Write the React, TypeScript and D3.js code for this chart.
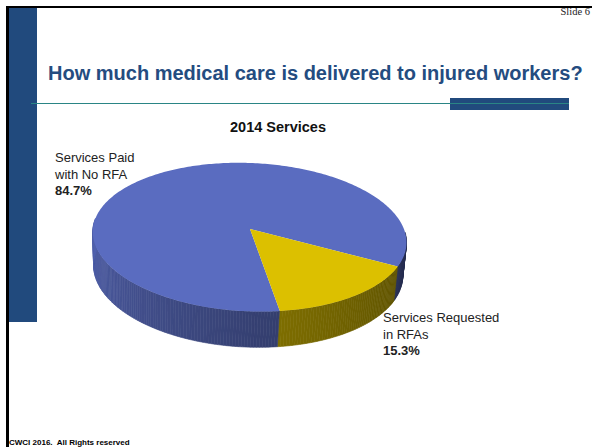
import React from "react";
import * as d3 from "d3";

const categories = ["Services Paid with No RFA", "Services Requested in RFAs"];
const values = [84.7, 15.3];
const percentLabels = ["84.7%", "15.3%"];
const labelLines = [["Services Paid", "with No RFA"], ["Services Requested", "in RFAs"]];
const colors = ["#5a6cc0", "#dcc000"];
const chartTitle = "2014 Services";
const slideTitle = "How much medical care is delivered to injured workers?";

const W = 592, H = 447;
const R = 156;
const alpha = (28 * Math.PI) / 180;
const Dcam = 1250;
const thick = 38;
const phi = (2.5 * Math.PI) / 180;
const cx = 250, cy = 229;
const startDeg = 169;

function proj(theta: number, z: number): [number, number] {
  const X = R * Math.cos(theta);
  const Y = R * Math.sin(theta);
  const w = Dcam - (Y * Math.cos(alpha) + z * Math.sin(alpha));
  const sx = (Dcam * X) / w;
  const sy = (Dcam * (Y * Math.sin(alpha) - z * Math.cos(alpha))) / w;
  const x2 = sx * Math.cos(phi) - sy * Math.sin(phi);
  const y2 = sx * Math.sin(phi) + sy * Math.cos(phi);
  return [cx + x2, cy + y2];
}

// d3 angle (clockwise from 12 o'clock) -> disc angle (from +X toward viewer)
const toTheta = (a: number) => a - Math.PI / 2;

function shade(hex: string, f: number) {
  const c = d3.rgb(hex);
  return d3.rgb(c.r * f, c.g * f, c.b * f).formatHex();
}

export default function App() {
  const pie = d3
    .pie<number>()
    .sort(null)
    .startAngle((startDeg * Math.PI) / 180)
    .endAngle((startDeg * Math.PI) / 180 + 2 * Math.PI);
  const arcs = pie(values);

  // top face paths
  const topPaths = arcs.map((a, i) => {
    const p = d3.path();
    p.moveTo(cx, cy);
    const t0 = toTheta(a.startAngle), t1 = toTheta(a.endAngle);
    const n = Math.max(8, Math.ceil(((t1 - t0) * 180) / Math.PI));
    for (let k = 0; k <= n; k++) {
      const t = t0 + ((t1 - t0) * k) / n;
      const [x, y] = proj(t, 0);
      p.lineTo(x, y);
    }
    p.closePath();
    return { d: p.toString(), fill: colors[i] };
  });

  // side wall: visible front half theta in [0, PI]
  const sideQuads: { d: string; fill: string }[] = [];
  const step = Math.PI / 180;
  const sliceOf = (theta: number) => {
    for (let i = 0; i < arcs.length; i++) {
      const a0 = toTheta(arcs[i].startAngle), a1 = toTheta(arcs[i].endAngle);
      let t = theta;
      while (t < a0) t += 2 * Math.PI;
      if (t >= a0 && t < a1) return i;
    }
    return 0;
  };
  for (let t = -0.05; t < Math.PI + 0.05; t += step) {
    const tm = t + step / 2;
    const i = sliceOf(tm);
    const frac = Math.min(1, Math.max(0, tm / Math.PI));
    const f = 0.4 + 0.5 * Math.pow(frac, 1.3);
    const a = proj(t, 0), b = proj(t + step, 0), c = proj(t + step, -thick), d = proj(t, -thick);
    const p = d3.path();
    p.moveTo(a[0], a[1]);
    p.lineTo(b[0], b[1]);
    p.lineTo(c[0], c[1]);
    p.lineTo(d[0], d[1]);
    p.closePath();
    sideQuads.push({ d: p.toString(), fill: shade(colors[i], f) });
  }

  const navy = "#214a7d";
  const font = "'Liberation Sans', Arial, sans-serif";
  const labelPos = [
    { x: 55, y: 162 },
    { x: 383, y: 322 },
  ];

  return (
    <svg
      width={W}
      height={H}
      viewBox={`0 0 ${W} ${H}`}
      style={{ position: "absolute", left: 0, top: 0, background: "#fff" }}
    >
      <rect x={0} y={0} width={W} height={H} fill="#fff" />
      {/* frame */}
      <rect x={9} y={8} width={28} height={314} fill={navy} />
      <rect x={6} y={6} width={586} height={2} fill="#000" />
      <rect x={6} y={6} width={3} height={441} fill="#000" />
      <rect x={450} y={98} width={119} height={12} fill={navy} />
      <line x1={31} x2={569} y1={103.5} y2={103.5} stroke="#2a8585" strokeWidth={1} />
      <text x={590} y={15} textAnchor="end" fontFamily="'Liberation Serif', 'Times New Roman', serif" fontSize={10.5} fill="#222">
        Slide 6
      </text>
      <text x={48} y={80} fontFamily={font} fontWeight="bold" fontSize={20} fill="#244c80">
        {slideTitle}
      </text>
      <text x={278} y={132} textAnchor="middle" fontFamily={font} fontWeight="bold" fontSize={14.5} fill="#111">
        {chartTitle}
      </text>
      {/* pie */}
      <g>
        {sideQuads.map((q, k) => (
          <path key={k} d={q.d} fill={q.fill} stroke={q.fill} strokeWidth={0.6} />
        ))}
        {topPaths.map((t, k) => (
          <path key={k} d={t.d} fill={t.fill} />
        ))}
      </g>
      {/* labels */}
      {categories.map((c, i) => (
        <text key={c} fontFamily={font} fontSize={13} fill="#222">
          {labelLines[i].map((ln, j) => (
            <tspan key={j} x={labelPos[i].x} y={labelPos[i].y + j * 16.5}>
              {ln}
            </tspan>
          ))}
          <tspan x={labelPos[i].x} y={labelPos[i].y + 33} fontWeight="bold">
            {percentLabels[i]}
          </tspan>
        </text>
      ))}
      <text x={9} y={445} fontFamily={font} fontWeight="bold" fontSize={8} fill="#000" style={{ whiteSpace: "pre" }}>
        {"CWCI 2016.  All Rights reserved"}
      </text>
    </svg>
  );
}
